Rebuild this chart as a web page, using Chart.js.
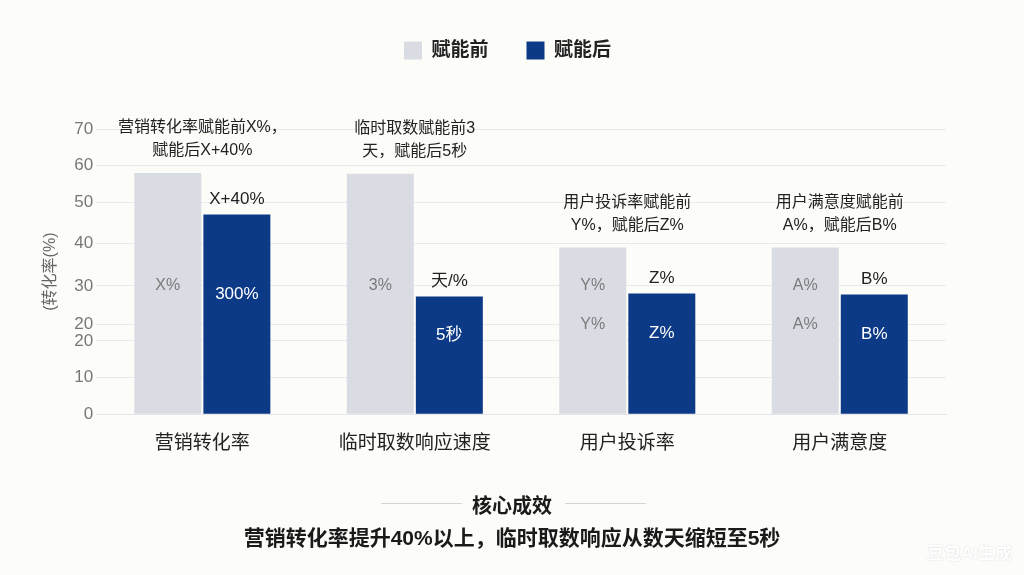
<!DOCTYPE html>
<html lang="zh">
<head>
<meta charset="utf-8">
<title>赋能前后对比</title>
<script src="https://cdn.jsdelivr.net/npm/chart.js@4/dist/chart.umd.min.js"></script>
<style>
  html, body { margin: 0; padding: 0; }
  body {
    width: 1024px; height: 575px; overflow: hidden; position: relative;
    background: #fcfcf9;
    font-family: "Liberation Sans", "Noto Sans CJK SC", sans-serif;
  }
  #wrap { position: absolute; left: 0; top: 0; width: 1024px; height: 575px; }
  .sub {
    position: absolute; left: 0; width: 1024px; text-align: center;
    font-weight: bold; color: #1a1a1a;
  }
  #coreTitle { top: 490px; font-size: 20px; }
  .rule { position: absolute; top: 503px; height: 1px; background: #d4d4d4; width: 81px; }
  #coreText { top: 521px; font-size: 21px; }
  #mark {
    position: absolute; right: 12px; top: 539px; font-size: 17px; font-weight: bold;
    color: #fff; text-shadow: 0 0 1px #d8d8d8, 0 0 2px #e6e6e6;
  }
</style>
</head>
<body>
<div id="wrap"><canvas id="c" width="1024" height="575"></canvas></div>
<div class="rule" style="left:381px"></div>
<div class="rule" style="left:565px"></div>
<div class="sub" id="coreTitle">核心成效</div>
<div class="sub" id="coreText">营销转化率提升40%以上，临时取数响应从数天缩短至5秒</div>
<div id="mark">豆包AI生成</div>
<script>
const categories = ['营销转化率', '临时取数响应速度', '用户投诉率', '用户满意度'];
const seriesNames = ['赋能前', '赋能后'];
const beforeValues = [59.2, 59.0, 40.9, 40.9];
const afterValues = [49.0, 28.9, 29.6, 29.4];

// y axis as drawn in the picture (note the doubled "20")
const tickValues = [0, 9, 18, 22, 31.5, 42, 52, 61, 70];
const tickLabels = ['0', '10', '20', '20', '30', '40', '50', '60', '70'];

const notes = [
  ['营销转化率赋能前X%，', '赋能后X+40%'],
  ['临时取数赋能前3', '天，赋能后5秒'],
  ['用户投诉率赋能前', 'Y%，赋能后Z%'],
  ['用户满意度赋能前', 'A%，赋能后B%']
];
const afterTopLabels = ['X+40%', '天/%', 'Z%', 'B%'];
const afterInnerLabels = ['300%', '5秒', 'Z%', 'B%'];
const beforeInnerLabels = [['X%'], ['3%'], ['Y%', 'Y%'], ['A%', 'A%']];

const FONT = '"Liberation Sans", "Noto Sans CJK SC", sans-serif';
const GRAY = '#d9dce2';
const NAVY = '#0c3a86';

const barText = {
  id: 'barText',
  afterDatasetsDraw(chart) {
    const c = chart.ctx;
    const y = chart.scales.y;
    const m0 = chart.getDatasetMeta(0).data;
    const m1 = chart.getDatasetMeta(1).data;
    c.save();
    c.textAlign = 'center';
    c.textBaseline = 'middle';
    categories.forEach((_, i) => {
      const b0 = m0[i], b1 = m1[i];
      // note above the pair
      c.font = '16px ' + FONT;
      c.fillStyle = '#222';
      const cx = (b0.x + b1.x) / 2;
      const top = Math.min(b0.y, b1.y) - 22;
      c.fillText(notes[i][1], cx, top);
      c.fillText(notes[i][0], cx, top - 23);
      // label above the after bar
      c.font = '17px ' + FONT;
      c.fillText(afterTopLabels[i], b1.x, b1.y - 15);
      // inside after bar
      c.fillStyle = '#ffffff';
      c.fillText(afterInnerLabels[i], b1.x, (b1.y + b1.base) / 2 - 20);
      // inside before bar, on the 30 / upper 20 ticks
      c.font = '16px ' + FONT;
      c.fillStyle = '#7a7a7a';
      beforeInnerLabels[i].forEach((t, k) => {
        c.fillText(t, b0.x, y.getPixelForValue(tickValues[4 - k]));
      });
    });
    c.restore();
  }
};

const legendGap = {
  id: 'legendGap',
  beforeInit(chart) {
    const fit = chart.legend.fit;
    chart.legend.fit = function () {
      fit.bind(chart.legend)();
      this.height += 59;
    };
  },
  afterLayout(chart) {
    // centre the legend on the page rather than on the padded box
    chart.legend.left += 14;
    chart.legend.right += 14;
  }
};

new Chart(document.getElementById('c'), {
  type: 'bar',
  data: {
    labels: categories,
    datasets: [
      { label: seriesNames[0], data: beforeValues, backgroundColor: GRAY },
      { label: seriesNames[1], data: afterValues, backgroundColor: NAVY }
    ]
  },
  options: {
    responsive: false,
    animation: false,
    events: [],
    layout: { padding: { top: 3, left: 41, right: 78, bottom: 110 } },
    datasets: { bar: { categoryPercentage: 0.65, barPercentage: 0.97 } },
    plugins: {
      legend: {
        position: 'top',
        labels: {
          boxWidth: 18, boxHeight: 18, padding: 38, color: '#222',
          font: { family: FONT, size: 19, weight: 'bold' }
        }
      },
      tooltip: { enabled: false }
    },
    scales: {
      x: {
        grid: { display: false },
        border: { color: '#e3e5ea' },
        ticks: { color: '#222', padding: 10, font: { family: FONT, size: 19 } }
      },
      y: {
        min: 0, max: 70,
        afterBuildTicks(scale) { scale.ticks = tickValues.map(v => ({ value: v })); },
        grid: { color: '#e8eaee', drawTicks: false },
        border: { display: false },
        ticks: {
          color: '#777', padding: 3, font: { family: FONT, size: 17 },
          callback: (v, i) => tickLabels[i]
        },
        title: {
          display: true, text: '(转化率(%)', color: '#666',
          font: { family: FONT, size: 16 }, padding: { top: 0, bottom: 11 }
        }
      }
    }
  },
  plugins: [barText, legendGap]
});
</script>
</body>
</html>
